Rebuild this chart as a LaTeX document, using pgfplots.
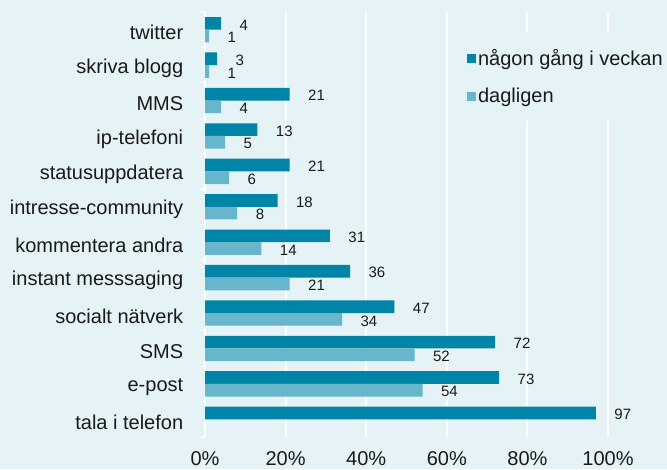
\documentclass[border=0pt]{standalone}
\usepackage{pgfplots}
\pgfplotsset{compat=1.18}
\usepackage{fontspec}
\setmainfont{Liberation Sans}
\definecolor{bg}{HTML}{E5F2F6}
\definecolor{dark}{HTML}{0085A8}
\definecolor{light}{HTML}{68B6CC}
\definecolor{txt}{HTML}{1A1A1A}
\begin{document}
\begin{tikzpicture}
\path[use as bounding box, fill=bg] (-205pt,-32pt) rectangle (462pt,437pt);
\begin{axis}[
  at={(0,0)}, anchor=south west,
  scale only axis, width=403pt, height=425pt,
  /pgf/number format/assume math mode=true,
  xmin=0, xmax=100, ymin=-0.5, ymax=11.5,
  xbar, bar width=12.7pt,
  axis lines=left,
  axis line style={-},
  x axis line style={draw=none},
  y axis line style={white, line width=1.2pt},
  xtick={0,20,...,100},
  xticklabel={\pgfmathprintnumber{\tick}\%},
  major x tick style={draw=none},
  xmajorgrids,
  major grid style={white, line width=2pt},
  ytick={0,...,11},
  yticklabels={tala i telefon, e-post, SMS, socialt nätverk, instant messsaging, kommentera andra, intresse-community, statusuppdatera, ip-telefoni, MMS, skriva blogg, twitter},
  major y tick style={draw=none},
  minor ytick={-0.5,0.5,...,11.5},
  minor y tick style={white, line width=1.2pt},
  minor tick length=4pt,
  tick align=outside,
  ticklabel style={font=\fontsize{20}{24}\selectfont, text=txt},
  yticklabel style={xshift=-14pt, yshift=-3pt},
  xticklabel style={yshift=-7pt},
  nodes near coords,
  every node near coord/.append style={font=\fontsize{15}{18}\selectfont, text=txt, anchor=west, xshift=15pt, yshift=-1.5pt},
  legend style={at={(0.64,0.95)}, anchor=north west, draw=none, fill=bg,
    font=\fontsize{20}{24}\selectfont, text=txt, row sep=17pt, inner xsep=4pt, inner ysep=14pt},
  legend cell align=left,
  legend image code/.code={\fill[#1] (0pt,-4.5pt) rectangle (9pt,4.5pt);},
]
\addplot[fill=dark, draw=none, bar shift=6.35pt] coordinates {
  (97,0) (73,1) (72,2) (47,3) (36,4) (31,5) (18,6) (21,7) (13,8) (21,9) (3,10) (4,11)};
\addplot[fill=light, draw=none, bar shift=-6.35pt] coordinates {
  (54,1) (52,2) (34,3) (21,4) (14,5) (8,6) (6,7) (5,8) (4,9) (1,10) (1,11)};
\legend{någon gång i veckan, dagligen}
\end{axis}
\end{tikzpicture}
\end{document}
